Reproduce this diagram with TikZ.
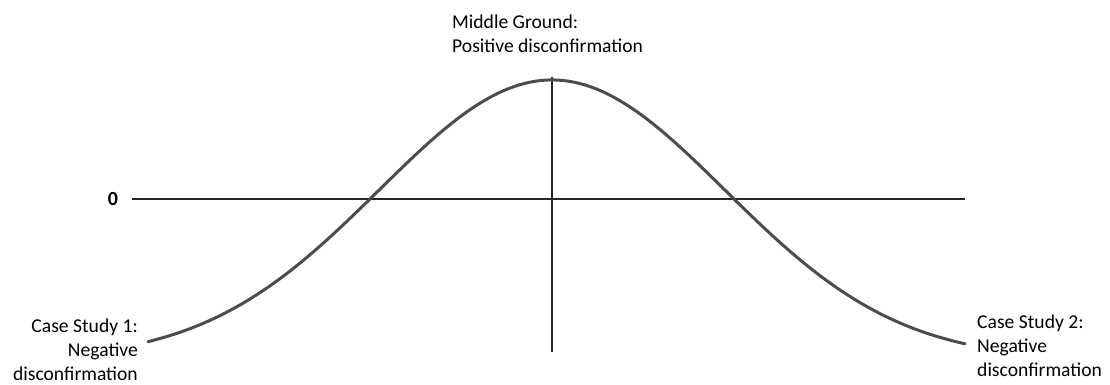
\documentclass[tikz,border=0pt]{standalone}
\usepackage{fontspec}
\setmainfont{Carlito}
\begin{document}
\begin{tikzpicture}[x=1pt,y=-1pt,
  lbl/.style={inner sep=0pt, font=\fontsize{19.6}{24}\selectfont},
  axis/.style={draw=black!85, line width=1.3pt},
  curve/.style={draw=black!70, line width=3pt, line cap=round}]
\useasboundingbox (0,0) rectangle (1110,385);
% axes
\coordinate (hl) at (132,199);
\coordinate (hr) at (965,199);
\coordinate (vt) at (552,77);
\coordinate (vb) at (552,352);
\draw[axis] (hl) -- (hr);
\draw[axis] (vt) -- (vb);
% bell curve
\draw[curve] plot[domain=-404:413, samples=160, smooth] ({552+\x},{360-280*exp(-0.5*(\x/173)^2)});
% labels
\node[lbl, anchor=north west, align=left] (mid) at (452,15) {Middle Ground:\\Positive disconfirmation};
\node[lbl, anchor=north east, align=right] (cs1) at (138,319) {Case Study 1:\\Negative\\disconfirmation};
\node[lbl, anchor=north west, align=left] (cs2) at (977,315) {Case Study 2:\\Negative\\disconfirmation};
\node[lbl, font=\fontsize{20}{24}\selectfont\bfseries] (zero) at (113,199) {0};
\end{tikzpicture}
\end{document}
